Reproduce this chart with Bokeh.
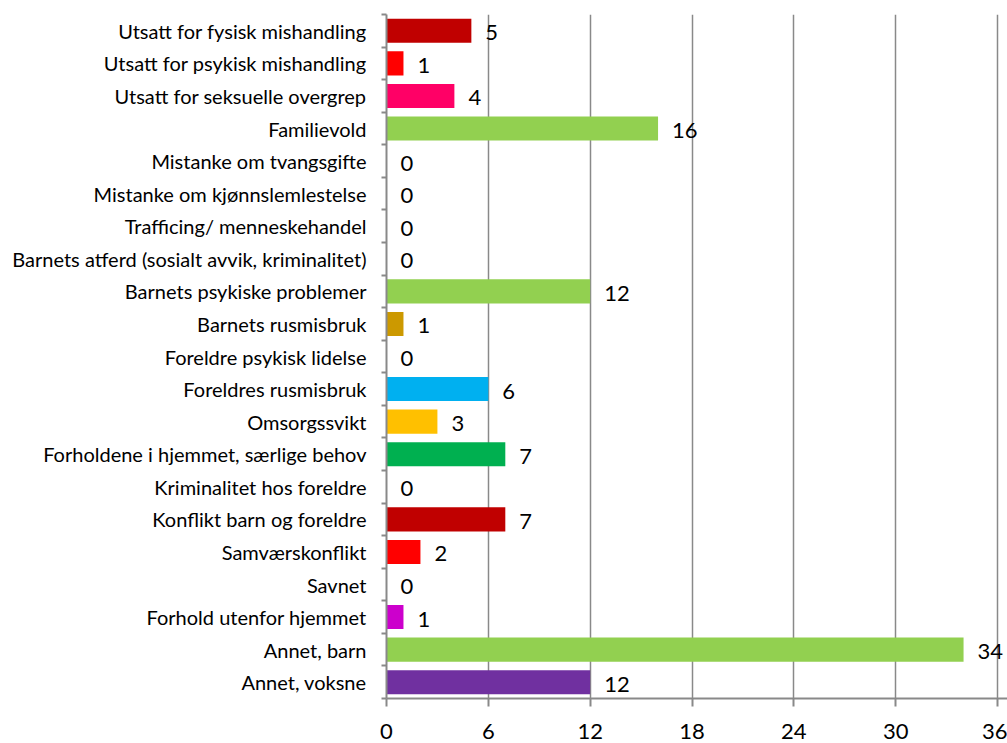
from bokeh.plotting import figure
from bokeh.models import ColumnDataSource, FixedTicker, Range1d, LabelSet
from bokeh.core.properties import value
from bokeh.embed import file_html
from bokeh.resources import INLINE

categories = [
    "Utsatt for fysisk mishandling",
    "Utsatt for psykisk mishandling",
    "Utsatt for seksuelle overgrep",
    "Familievold",
    "Mistanke om tvangsgifte",
    "Mistanke om kjønnslemlestelse",
    "Trafficing/ menneskehandel",
    "Barnets atferd (sosialt avvik, kriminalitet)",
    "Barnets psykiske problemer",
    "Barnets rusmisbruk",
    "Foreldre psykisk lidelse",
    "Foreldres rusmisbruk",
    "Omsorgssvikt",
    "Forholdene i hjemmet, særlige behov",
    "Kriminalitet hos foreldre",
    "Konflikt barn og foreldre",
    "Samværskonflikt",
    "Savnet",
    "Forhold utenfor hjemmet",
    "Annet, barn",
    "Annet, voksne",
]
values = [5, 1, 4, 16, 0, 0, 0, 0, 12, 1, 0, 6, 3, 7, 0, 7, 2, 0, 1, 34, 12]
colors = [
    "#C00000", "#FF0000", "#FF0066", "#92D050", "#92D050", "#92D050", "#92D050",
    "#92D050", "#92D050", "#CC9900", "#92D050", "#00B0F0", "#FFC000", "#00B050",
    "#92D050", "#C00000", "#FF0000", "#92D050", "#CC00CC", "#92D050", "#7030A0",
]
x_ticks = [0, 6, 12, 18, 24, 30, 36]

n = len(categories)
centers = [n - i - 0.5 for i in range(n)]
bounds = list(range(n + 1))

src = ColumnDataSource(dict(
    y=centers, v=values, c=colors, lab=[str(v) for v in values], cat=categories,
))

# frame spans 621 px; the 0..36 scale occupies 611 px of it
x_max = 36 * 621 / 611

p = figure(
    width=1007, height=743, output_backend="svg", toolbar_location=None,
    x_range=Range1d(0, x_max), y_range=Range1d(0, n),
    min_border_left=386, min_border_right=0, min_border_top=14, min_border_bottom=45,
)
p.outline_line_color = None
p.background_fill_color = "white"
p.border_fill_color = "white"

p.hbar(y="y", left=0, right="v", height=0.74, color="c", source=src, line_color=None)
labels = LabelSet(x="v", y="y", text="lab", source=src, x_offset=14, y_offset=-2,
                  text_baseline="middle", text_align="left",
                  text_font=value("Lato"), text_font_size=value("22px"),
                  text_color="black")
p.add_layout(labels)

grid_color = "#898989"
# x axis
p.xaxis.ticker = FixedTicker(ticks=x_ticks)
p.xaxis.axis_line_color = grid_color
p.xaxis.axis_line_width = 2
p.xaxis.major_tick_line_color = grid_color
p.xaxis.major_tick_line_width = 2
p.xaxis.major_tick_out = 8
p.xaxis.major_tick_in = 0
p.xaxis.minor_tick_line_color = None
p.xaxis.major_label_text_font = "Lato"
p.xaxis.major_label_text_font_size = "22px"
p.xaxis.major_label_text_color = "black"
p.xaxis.major_label_standoff = 17

# y axis
p.yaxis.ticker = FixedTicker(ticks=centers, minor_ticks=bounds)
p.yaxis.major_label_overrides = {c: cat for c, cat in zip(centers, categories)}
p.yaxis.axis_line_color = grid_color
p.yaxis.axis_line_width = 2
p.yaxis.major_tick_line_color = None
p.yaxis.minor_tick_line_color = grid_color
p.yaxis.minor_tick_line_width = 2
p.yaxis.minor_tick_out = 5
p.yaxis.minor_tick_in = 0
p.yaxis.major_label_text_font = "Lato"
p.yaxis.major_label_text_font_size = "20px"
p.yaxis.major_label_text_color = "black"
p.yaxis.major_label_standoff = 14

p.ygrid.grid_line_color = None
p.xgrid.grid_line_color = grid_color
p.xgrid.grid_line_width = 1.5

open("out.html", "w").write(file_html(p, INLINE))
